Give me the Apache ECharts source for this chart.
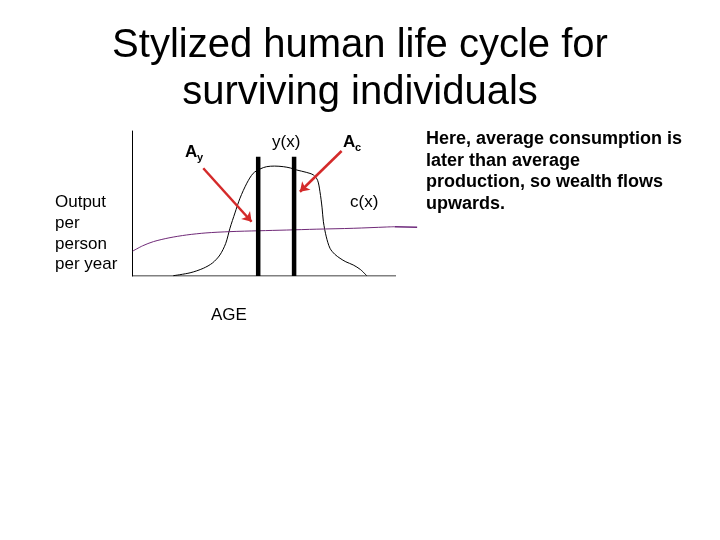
<!DOCTYPE html>
<html>
<head>
<meta charset="utf-8">
<script src="https://cdn.jsdelivr.net/npm/echarts@6/dist/echarts.min.js"></script>
<style>html,body{margin:0;padding:0;background:#fff;}#c{width:720px;height:540px;}</style>
</head>
<body>
<div id="c"></div>
<script>
// Production curve y(x)
var yxAge   = [15.6, 22, 27, 30.5, 33.3, 35.5, 37.1, 39, 40.9, 43.5, 45.9, 48.5, 51, 54, 57.3, 60, 62.4, 66, 68.7, 70.3, 71.2, 72.0, 72.5, 73.6, 75, 76.8, 78.8, 81, 83.8, 86.5, 88.9];
var yxValue = [0.2, 2.2, 5.3, 9.0, 14.5, 22.5, 32.9, 43.5, 53.6, 64, 70.8, 73.8, 75.4, 75.8, 75.4, 74.5, 73.1, 71.5, 69.7, 66, 58.1, 47, 37.4, 27, 19.1, 15, 12.2, 9.8, 7.6, 4.5, 0.2];
// Consumption curve c(x)
var cxAge   = [0.3, 4, 8.1, 14, 20.7, 28, 37.1, 48, 58.6, 70, 83.8, 96.5, 99.5];
var cxValue = [17.2, 20.8, 23.7, 26.3, 28.3, 29.7, 30.6, 31.2, 31.7, 32.3, 32.9, 33.8, 34.0];
var cxTailAge   = [99.5, 108];
var cxTailValue = [34.0, 33.6];
// Age axis drawn from 0 to 100
var ageAxisRange = [0, 100];
// Mean ages of production (A_y) and consumption (A_c)
var meanAges   = [47.8, 61.4];
var barHeight  = 82.3;
// Arrows: [fromAge, fromValue, toAge, toValue]
var arrowAy = [27, 74.3, 45.3, 37.4];
var arrowAc = [79.4, 86.2, 63.6, 58.1];

function zip(a, b) { return a.map(function (v, i) { return [v, b[i]]; }); }

var FONT = '"Liberation Sans", Arial, Helvetica, sans-serif';
function txt(text, x, y, size, weight, align) {
  return {
    type: 'text', x: x, y: y, silent: true,
    style: { text: text, fill: '#000', font: (weight || 'normal') + ' ' + size + 'px ' + FONT,
             textAlign: align || 'left', textVerticalAlign: 'middle' }
  };
}

var chart = echarts.init(document.getElementById('c'), null, { renderer: 'canvas' });
var series = [
  { type: 'line', data: [[ageAxisRange[0], 0], [ageAxisRange[1], 0]], symbol: 'none',
    lineStyle: { color: '#000', width: 1 }, z: 2 },
  { type: 'line', data: zip(yxAge, yxValue), smooth: 0.3, symbol: 'none',
    lineStyle: { color: '#000', width: 1 }, z: 3 },
  { type: 'line', data: zip(cxAge, cxValue), smooth: 0.3, symbol: 'none',
    lineStyle: { color: '#702a78', width: 1 }, z: 3 },
  { type: 'line', data: zip(cxTailAge, cxTailValue), symbol: 'none',
    lineStyle: { color: '#6e2a7c', width: 1.6 }, z: 3 }
];
meanAges.forEach(function (a) {
  series.push({ type: 'line', data: [[a, 0], [a, barHeight]], symbol: 'none',
    lineStyle: { color: '#000', width: 4.5 }, z: 4 });
});
series.push({
  type: 'lines', coordinateSystem: 'cartesian2d', z: 5,
  symbol: ['none', 'arrow'], symbolSize: 9,
  lineStyle: { color: '#d42a2a', width: 2.5, opacity: 1 },
  data: [
    { coords: [[arrowAy[0], arrowAy[1]], [arrowAy[2], arrowAy[3]]] },
    { coords: [[arrowAc[0], arrowAc[1]], [arrowAc[2], arrowAc[3]]] }
  ]
});

chart.setOption({
  animation: false,
  backgroundColor: '#fff',
  grid: { left: 132, top: 131, width: 285.12, height: 145 },
  xAxis: { type: 'value', min: 0, max: 108,
    axisLine: { show: false },
    axisTick: { show: false }, axisLabel: { show: false }, splitLine: { show: false } },
  yAxis: { type: 'value', min: 0, max: 100,
    axisLine: { show: true, onZero: false, lineStyle: { color: '#000', width: 1 } },
    axisTick: { show: false }, axisLabel: { show: false }, splitLine: { show: false } },
  series: series,
  graphic: [
    txt('Stylized human life cycle for', 360, 45.5, 40, 'normal', 'center'),
    txt('surviving individuals', 360, 93, 40, 'normal', 'center'),
    txt('Output', 55, 202.4, 17),
    txt('per', 55, 223.4, 17),
    txt('person', 55, 243.9, 17),
    txt('per year', 55, 264.4, 17),
    txt('AGE', 211, 315, 17),
    txt('y(x)', 272, 142, 17),
    txt('c(x)', 350, 202, 17),
    txt('A', 185, 152.7, 17, 'bold'),
    txt('y', 197, 158, 11, 'bold'),
    txt('A', 343, 142, 17, 'bold'),
    txt('c', 355, 147.5, 11, 'bold'),
    txt('Here, average consumption is', 426, 139.4, 18, 'bold'),
    txt('later than average', 426, 161, 18, 'bold'),
    txt('production, so wealth flows', 426, 182, 18, 'bold'),
    txt('upwards.', 426, 203.7, 18, 'bold')
  ]
});
</script>
</body>
</html>
